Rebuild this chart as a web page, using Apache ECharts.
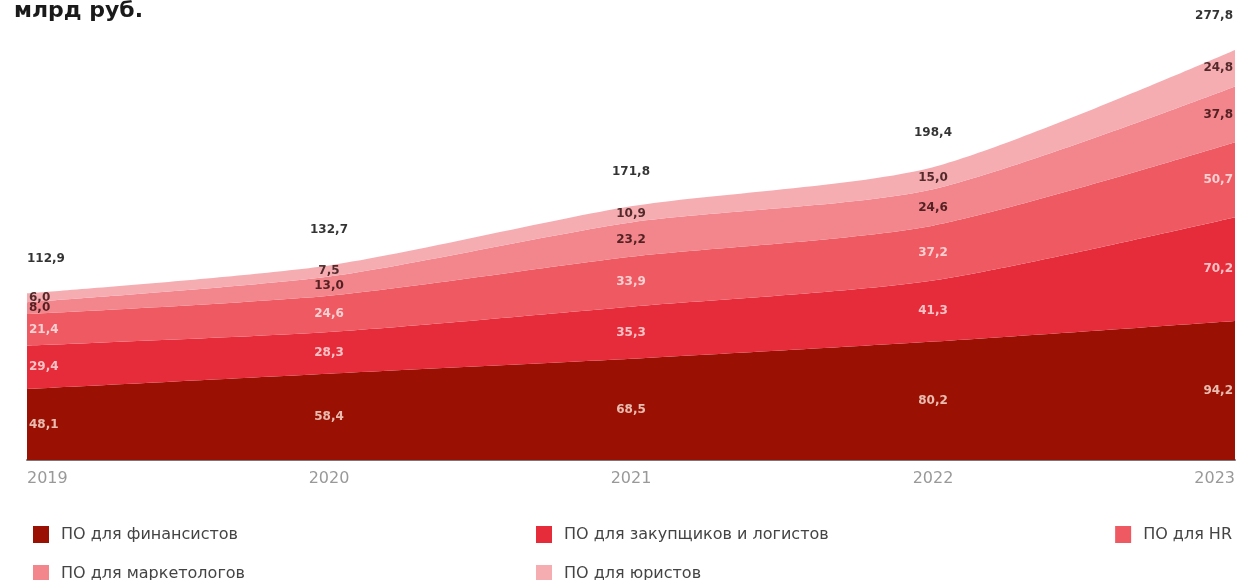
<!DOCTYPE html>
<html><head><meta charset="utf-8">
<script src="https://cdn.jsdelivr.net/npm/echarts@6/dist/echarts.min.js"></script>
<style>html,body{margin:0;padding:0;background:#fff}#c{width:1242px;height:580px}</style>
</head><body><div id="c"></div>
<script>
const years = ['2019','2020','2021','2022','2023'];
const seriesNames = ['ПО для финансистов','ПО для закупщиков и логистов','ПО для HR','ПО для маркетологов','ПО для юристов'];
const finance = [48.1, 58.4, 68.5, 80.2, 94.2];
const procurement = [29.4, 28.3, 35.3, 41.3, 70.2];
const hr = [21.4, 24.6, 33.9, 37.2, 50.7];
const marketing = [8.0, 13.0, 23.2, 24.6, 37.8];
const legal = [6.0, 7.5, 10.9, 15.0, 24.8];
const totals = [112.9, 132.7, 171.8, 198.4, 277.8];

const layers = [finance, procurement, hr, marketing, legal];
const colors = ['#9a1002', '#e62c3b', '#ee5962', '#f2868c', '#f5adb2'];
const labelColors = ['#fbe9dc', '#fde8e8', '#fdeeee', '#2a0808', '#2a0808'];
const fmt = v => v.toFixed(1).replace('.', ',');
const font = '"DejaVu Sans", sans-serif';

const series = [];
layers.forEach((arr, i) => {
  series.push({
    name: seriesNames[i], type: 'line', stack: 'total', smooth: 0.25,
    symbol: 'none', lineStyle: {width: 0}, areaStyle: {color: colors[i], opacity: 1},
    itemStyle: {color: colors[i]}, data: arr, z: 2
  });
});
layers.forEach((arr, i) => {
  const mids = arr.map((v, j) => {
    let base = 0; for (let k = 0; k < i; k++) base += layers[k][j];
    const item = {value: base + v / 2, raw: v};
    if (j === 0) item.label = {align: 'left', offset: [2, 0]};
    if (j === arr.length - 1) item.label = {align: 'right', offset: [-2, 0]};
    return item;
  });
  series.push({
    type: 'scatter', symbolSize: 0, silent: true, z: 5, data: mids,
    label: {show: true, position: 'inside', color: labelColors[i], fontFamily: font,
      fontSize: 12, fontWeight: 'bold', formatter: p => fmt(p.data.raw)}
  });
});
series.push({
  type: 'scatter', symbolSize: 0, silent: true, z: 5,
  data: totals.map((v, j) => {
    const item = {value: v};
    if (j === 0) item.label = {align: 'left', offset: [0, 0]};
    if (j === totals.length - 1) item.label = {align: 'right', offset: [-2, 0]};
    return item;
  }),
  label: {show: true, position: 'top', distance: 28, color: '#000', fontFamily: font,
    fontSize: 12, fontWeight: 'bold', formatter: p => fmt(p.value)}
});

const legendBase = {itemWidth: 16, itemHeight: 17, icon: 'rect', selectedMode: false,
  textStyle: {color: '#444', fontSize: 16, fontFamily: font, padding: [0, 0, 0, 7]}, itemGap: 10};
const chart = echarts.init(document.getElementById('c'), null, {renderer: 'canvas'});
chart.setOption({
  animation: false,
  title: {text: 'млрд руб.', left: 9, top: -5, textStyle: {fontSize: 22, fontWeight: 'bold', color: '#1a1a1a', fontFamily: font}},
  grid: {left: 27, right: 7, top: 17, bottom: 120},
  xAxis: {type: 'category', data: years, boundaryGap: false,
    axisLine: {lineStyle: {color: '#777', width: 2}}, axisTick: {show: false},
    axisLabel: {color: '#999', fontSize: 16, fontFamily: font, margin: 11, alignMinLabel: 'left', alignMaxLabel: 'right'}},
  yAxis: {type: 'value', min: 0, max: 300, show: false, splitLine: {show: false}},
  legend: [
    Object.assign({}, legendBase, {data: [seriesNames[0]], left: 28, top: 521}),
    Object.assign({}, legendBase, {data: [seriesNames[1]], left: 531, top: 521}),
    Object.assign({}, legendBase, {data: [seriesNames[2]], right: 5, top: 521}),
    Object.assign({}, legendBase, {data: [seriesNames[3]], left: 28, top: 560}),
    Object.assign({}, legendBase, {data: [seriesNames[4]], left: 531, top: 560})
  ],
  series: series
});
</script></body></html>
